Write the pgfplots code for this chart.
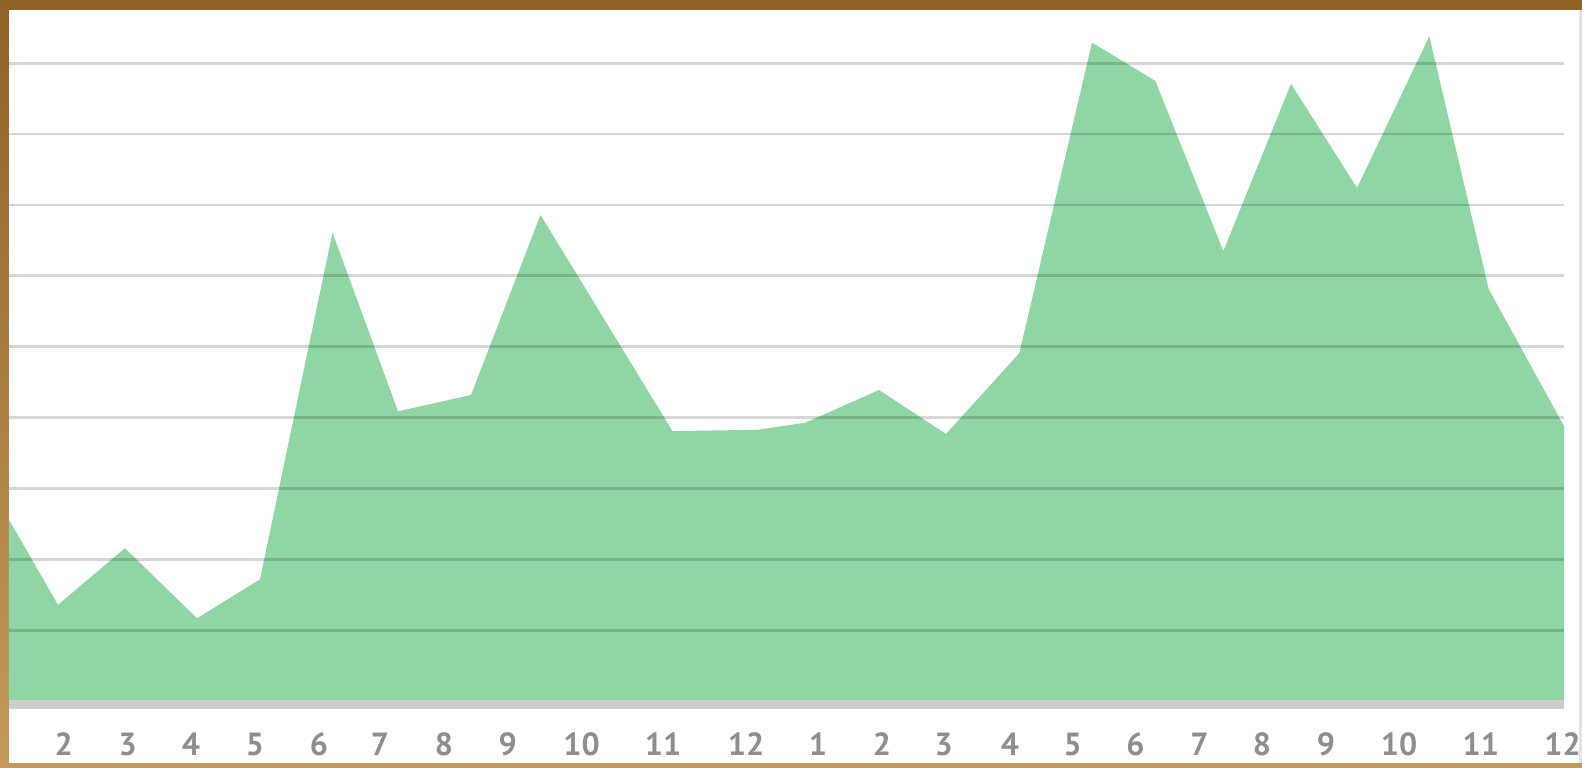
\documentclass[border=0pt]{standalone}
\usepackage{pgfplots}
\pgfplotsset{compat=1.18}
\usepackage{fontspec}
\setmainfont{PT Sans}
\definecolor{areagreen}{HTML}{90D6A4}
\definecolor{frameA}{HTML}{8F6226}
\definecolor{frameB}{HTML}{C49A5C}
\definecolor{ticklab}{HTML}{8E8E8E}
\definecolor{band}{HTML}{CDCDD2}
\begin{document}
\begin{tikzpicture}
\shade[top color=frameA, bottom color=frameB] (0pt,0pt) rectangle (791pt,383.5pt);
\fill[white] (4.5pt,2pt) rectangle (791pt,378.5pt);
\fill[gray!22] (789.5pt,2pt) rectangle (791pt,378.5pt);
\begin{axis}[
  at={(4.5pt,28.6pt)}, anchor=south west,
  scale only axis, width=777.5pt, height=349.9pt,
  xmin=9, xmax=1564, ymin=-1.2, ymax=97.5,
  axis on top,
  axis line style={draw=none},
  ytick={10,20,...,90}, yticklabels={},
  ymajorgrids,
  major grid style={black, opacity=0.16, line width=1.4pt},
  major tick length=0pt,
  xtick={63.8,127.6,191,255,319,380,444,507.6,581.6,663,746,818,882,943.7,1010,1072.6,1135.5,1199.4,1261.8,1326,1399,1480.8,1562.6},
  xticklabels={2,3,4,5,6,7,8,9,10,11,12,1,2,3,4,5,6,7,8,9,10,11,12},
  xticklabel style={anchor=base, yshift=-22.6pt, font=\fontsize{16}{16}\selectfont\bfseries, text=ticklab},
]
\addplot[fill=areagreen, draw=none] coordinates {
(9,25.6) (58,13.6) (125,21.6) (197,11.7) (260,17.2) (332.5,66.1) (398,40.9) (471,43.2) (540.5,68.6) (672.5,38.1) (758,38.3) (805.5,39.3) (879,43.9) (946,37.7) (1019.3,49.1) (1092,92.9) (1155.3,87.5) (1223.3,63.5) (1291,87.1) (1357,72.4) (1429.3,93.8) (1488.8,58.1) (1564,38.8)
} \closedcycle;
\fill[band] (axis cs:9,0.23) rectangle (axis cs:1564,-1.04);
\end{axis}
\pgfresetboundingbox
\path (0pt,0pt) rectangle (791pt,383.5pt);
\end{tikzpicture}
\end{document}
